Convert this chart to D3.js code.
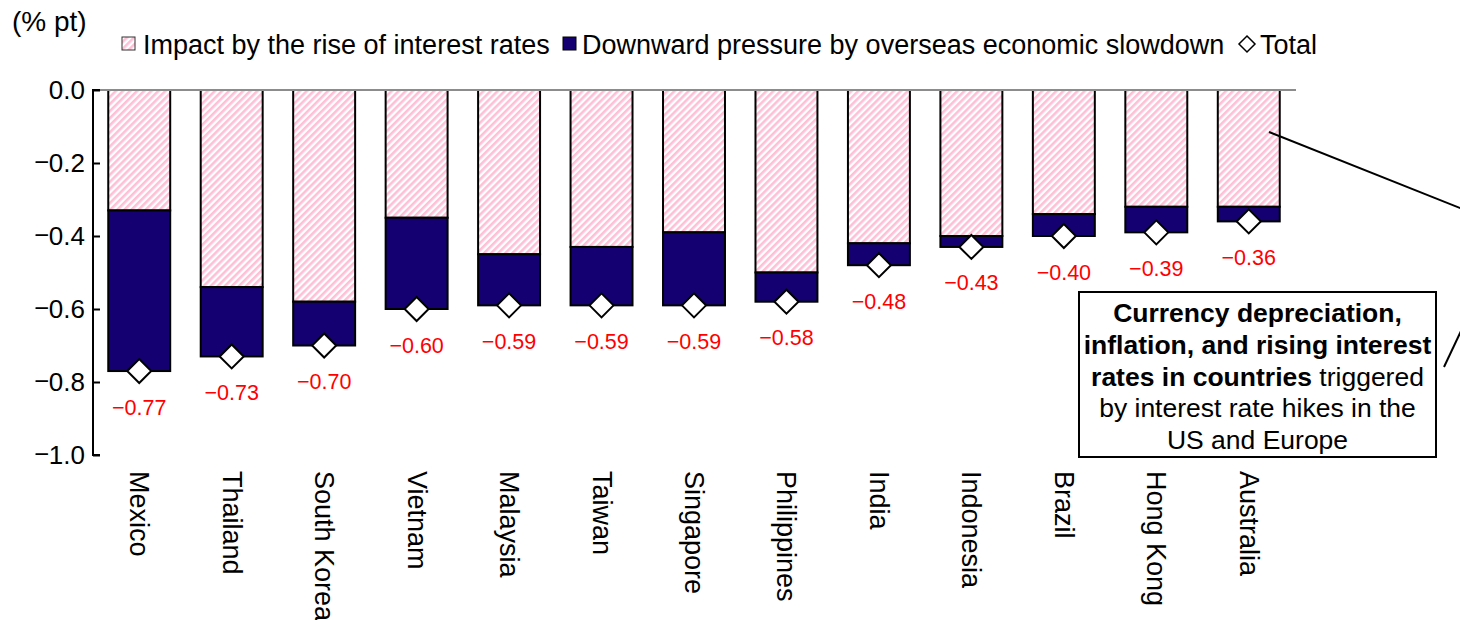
<!DOCTYPE html>
<html>
<head>
<meta charset="utf-8">
<script src="https://cdn.jsdelivr.net/npm/d3@7"></script>
<style>
  html, body { margin: 0; padding: 0; background: #fff; }
  svg { display: block; font-family: "Liberation Sans", Arial, sans-serif; }
</style>
</head>
<body>
<svg id="chart" width="1460" height="620"></svg>
<script>
// Countries, ordered from largest to smallest total impact
const countries = ["Mexico", "Thailand", "South Korea", "Vietnam", "Malaysia", "Taiwan",
  "Singapore", "Philippines", "India", "Indonesia", "Brazil", "Hong Kong", "Australia"];
// Impact by the rise of interest rates (% pt)
const interestImpact = [-0.33, -0.54, -0.58, -0.35, -0.45, -0.43, -0.39, -0.50, -0.42, -0.40, -0.34, -0.32, -0.32];
// Downward pressure by overseas economic slowdown (% pt)
const overseasImpact = [-0.44, -0.19, -0.12, -0.25, -0.14, -0.16, -0.20, -0.08, -0.06, -0.03, -0.06, -0.07, -0.04];
// Total (% pt)
const totals = [-0.77, -0.73, -0.70, -0.60, -0.59, -0.59, -0.59, -0.58, -0.48, -0.43, -0.40, -0.39, -0.36];
const yTicks = [0, -0.2, -0.4, -0.6, -0.8, -1.0];
const legendLabels = ["Impact by the rise of interest rates",
  "Downward pressure by overseas economic slowdown", "Total"];

const PINK = "#ffbfd6";
const NAVY = "#140070";

const svg = d3.select("#chart");
const plotLeft = 93, plotRight = 1295, plotTop = 90, plotBottom = 455;

const x = d3.scaleBand().domain(countries).range([plotLeft, plotRight]).paddingInner(0.33).paddingOuter(0.165);
const y = d3.scaleLinear().domain([-1, 0]).range([plotBottom, plotTop]);
const fmt = v => d3.format(".2f")(v).replace("-", "\u2212");

// Diagonal pink hatch
const defs = svg.append("defs");
const pat = defs.append("pattern").attr("id", "hatch")
  .attr("patternUnits", "userSpaceOnUse").attr("width", 5).attr("height", 5)
  .attr("patternTransform", "rotate(45)");
pat.append("rect").attr("width", 5).attr("height", 5).attr("fill", "#fff");
pat.append("rect").attr("width", 2.6).attr("height", 5).attr("fill", PINK);

// Stacked bars
const rows = countries.map((c, i) => ({ c, a: interestImpact[i], b: overseasImpact[i], t: totals[i] }));
const g = svg.append("g");
g.selectAll("rect.rate").data(rows).join("rect").attr("class", "rate")
  .attr("x", d => x(d.c)).attr("width", x.bandwidth())
  .attr("y", y(0)).attr("height", d => y(d.a) - y(0))
  .attr("fill", "url(#hatch)").attr("stroke", "#000").attr("stroke-width", 2);
g.selectAll("rect.overseas").data(rows).join("rect").attr("class", "overseas")
  .attr("x", d => x(d.c)).attr("width", x.bandwidth())
  .attr("y", d => y(d.a)).attr("height", d => y(d.a + d.b) - y(d.a))
  .attr("fill", NAVY).attr("stroke", "#000").attr("stroke-width", 2);

// Top baseline at zero
svg.append("line").attr("x1", plotLeft).attr("x2", plotRight + 1).attr("y1", y(0)).attr("y2", y(0))
  .attr("stroke", "#8c8c8c").attr("stroke-width", 2);

// Y axis, ticks pointing inward
const yAxis = d3.axisRight(y).tickValues(yTicks).tickSize(7).tickFormat("");
const ya = svg.append("g").attr("transform", `translate(${plotLeft},0)`).call(yAxis);
ya.select(".domain").attr("stroke", "#000").attr("stroke-width", 2).attr("d", `M7,${plotTop}H0V${plotBottom}H7`);
ya.selectAll(".tick line").attr("stroke", "#000").attr("stroke-width", 2);

// Tick labels: full-width minus sign ahead of the digits
const tl = svg.append("g").selectAll("text").data(yTicks).join("text")
  .attr("x", 85).attr("y", d => y(d)).attr("dy", "0.35em")
  .attr("text-anchor", "end").attr("font-size", 26).attr("fill", "#000");
tl.filter(d => d < 0).append("tspan").attr("font-family", "'Noto Sans CJK JP', sans-serif")
  .attr("font-size", 26).text("\u2212");
tl.append("tspan").text(d => d3.format(".1f")(Math.abs(d)));

// Total markers
const diamond = r => `M0,${-r}L${r},0L0,${r}L${-r},0Z`;
g.selectAll("path.total").data(rows).join("path").attr("class", "total")
  .attr("transform", d => `translate(${x(d.c) + x.bandwidth() / 2},${y(d.t)})`)
  .attr("d", diamond(12)).attr("fill", "#fff").attr("stroke", "#000").attr("stroke-width", 2);

// Total value labels
g.selectAll("text.val").data(rows).join("text").attr("class", "val")
  .attr("x", d => x(d.c) + x.bandwidth() / 2).attr("y", d => y(d.t) + 36).attr("dy", "0.35em")
  .attr("text-anchor", "middle").attr("font-size", 21.5).attr("fill", "#ff0000")
  .text(d => fmt(d.t));

// Country labels, rotated
g.selectAll("text.cat").data(countries).join("text").attr("class", "cat")
  .attr("transform", d => `translate(${x(d) + x.bandwidth() / 2},471) rotate(90)`)
  .attr("dominant-baseline", "central").attr("font-size", 27).attr("fill", "#000")
  .text(d => d);

// Unit label
svg.append("text").attr("x", 12).attr("y", 31).attr("font-size", 28).text("(% pt)");

// Legend
const lg = svg.append("g");
lg.append("rect").attr("x", 122).attr("y", 37).attr("width", 13).attr("height", 13)
  .attr("fill", "url(#hatch)").attr("stroke", "#333").attr("stroke-width", 1);
lg.append("text").attr("x", 143).attr("y", 53.5).attr("font-size", 27).text(legendLabels[0]);
lg.append("rect").attr("x", 563).attr("y", 37).attr("width", 13).attr("height", 13)
  .attr("fill", NAVY).attr("stroke", "#000").attr("stroke-width", 1);
lg.append("text").attr("x", 582).attr("y", 53.5).attr("font-size", 27).text(legendLabels[1]);
lg.append("path").attr("transform", "translate(1247,44)").attr("d", diamond(8))
  .attr("fill", "#fff").attr("stroke", "#000").attr("stroke-width", 1.5);
lg.append("text").attr("x", 1260).attr("y", 53.5).attr("font-size", 27).text(legendLabels[2]);

// Callout box and leader lines
const ann = svg.append("g");
ann.append("line").attr("x1", 1269).attr("y1", 132).attr("x2", 1480).attr("y2", 216)
  .attr("stroke", "#000").attr("stroke-width", 2);
ann.append("line").attr("x1", 1444).attr("y1", 367).attr("x2", 1470).attr("y2", 312)
  .attr("stroke", "#000").attr("stroke-width", 2);
ann.append("rect").attr("x", 1079).attr("y", 292).attr("width", 357).attr("height", 165)
  .attr("fill", "#fff").attr("stroke", "#000").attr("stroke-width", 2);
const cx = 1257.5;
const lines = [
  [["Currency depreciation,", true]],
  [["inflation, and rising interest", true]],
  [["rates in countries", true], [" triggered", false]],
  [["by interest rate hikes in the", false]],
  [["US and Europe", false]]
];
lines.forEach((parts, i) => {
  const t = ann.append("text").attr("x", cx).attr("y", 313 + i * 31.7).attr("dy", "0.35em")
    .attr("text-anchor", "middle").attr("font-size", 26.5).attr("fill", "#000");
  parts.forEach(([s, b]) => t.append("tspan").attr("font-weight", b ? "bold" : "normal").text(s));
});
</script>
</body>
</html>
